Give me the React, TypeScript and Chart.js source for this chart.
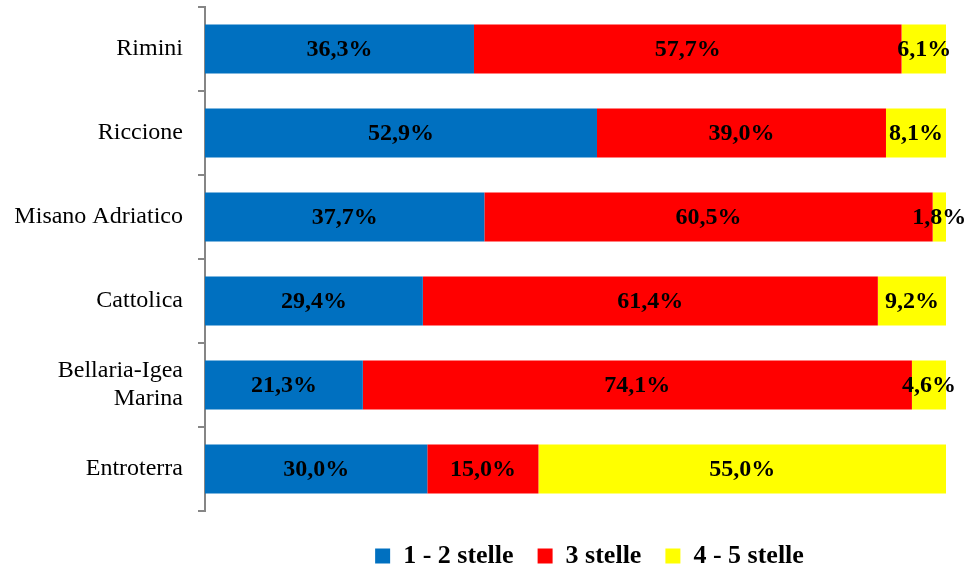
import React, { useEffect, useRef } from "react";
import { Chart, registerables } from "chart.js";

Chart.register(...registerables);

const categories: (string | string[])[] = [
  "Rimini",
  "Riccione",
  "Misano Adriatico",
  "Cattolica",
  ["Bellaria-Igea", "Marina"],
  "Entroterra",
];
const seriesNames = ["1 - 2 stelle", "3 stelle", "4 - 5 stelle"];
const stelle12 = [36.3, 52.9, 37.7, 29.4, 21.3, 30.0];
const stelle3 = [57.7, 39.0, 60.5, 61.4, 74.1, 15.0];
const stelle45 = [6.1, 8.1, 1.8, 9.2, 4.6, 55.0];
const seriesColors = ["#0070C0", "#FF0000", "#FFFF00"];

const fmt = (v: number) => v.toFixed(1).replace(".", ",") + "%";

const labelPlugin = {
  id: "segLabels",
  afterDatasetsDraw(chart: any) {
    const ctx = chart.ctx;
    ctx.save();
    ctx.font = "bold 24px 'Liberation Serif', 'Times New Roman', serif";
    ctx.fillStyle = "#000";
    ctx.textAlign = "center";
    ctx.textBaseline = "middle";
    chart.data.datasets.forEach((ds: any, di: number) => {
      const meta = chart.getDatasetMeta(di);
      meta.data.forEach((bar: any, i: number) => {
        const { x, base, y } = bar.getProps(["x", "base", "y"], true);
        ctx.fillText(fmt(ds.data[i]), (x + base) / 2, y + 1);
      });
    });
    ctx.restore();
  },
};

const legendShift = {
  id: "legendShift",
  afterLayout(chart: any) {
    const lg = chart.legend;
    if (lg) {
      lg.top += 8;
      lg.bottom += 8;
      lg.left += 14;
      lg.right += 14;
    }
  },
};

export default function App() {
  const ref = useRef<HTMLCanvasElement>(null);
  useEffect(() => {
    if (!ref.current) return;
    const chart = new Chart(ref.current, {
      type: "bar",
      data: {
        labels: categories,
        datasets: [stelle12, stelle3, stelle45].map((d, i) => ({
          label: seriesNames[i],
          data: d,
          backgroundColor: seriesColors[i],
          borderWidth: 0,
          barPercentage: 0.585,
          categoryPercentage: 1,
        })),
      },
      options: {
        indexAxis: "y",
        animation: false,
        responsive: false,
        maintainAspectRatio: false,
        layout: { padding: { top: 7, right: 23, left: 0, bottom: 0 } },
        scales: {
          x: {
            stacked: true,
            min: 0,
            max: 100,
            display: false,
          },
          y: {
            stacked: true,
            afterFit(scale: any) {
              scale.width = 205;
              scale.paddingTop = 0;
              scale.paddingBottom = 0;
            },
            grid: {
              offset: true,
              drawOnChartArea: false,
              tickLength: 7,
              color: "#868686",
              lineWidth: 2,
            },
            border: { display: true, color: "#868686", width: 2 },
            ticks: {
              padding: 15,
              color: "#000",
              font: { family: "'Liberation Serif', serif", size: 24, lineHeight: 1.15 },
            },
          },
        },
        plugins: {
          tooltip: { enabled: false },
          legend: {
            position: "bottom",
            fullSize: false,
            labels: {
              boxWidth: 15,
              boxHeight: 15,
              padding: 24,
              color: "#000",
              font: { family: "'Liberation Serif', serif", size: 26, weight: "bold" },
            },
          },
        },
      },
      plugins: [labelPlugin, legendShift],
    } as any);
    return () => chart.destroy();
  }, []);
  return (
    <div style={{ position: "fixed", left: 0, top: 0, width: 969, height: 571, background: "#fff" }}>
      <canvas ref={ref} width={969} height={571} style={{ width: 969, height: 571 }} />
    </div>
  );
}
